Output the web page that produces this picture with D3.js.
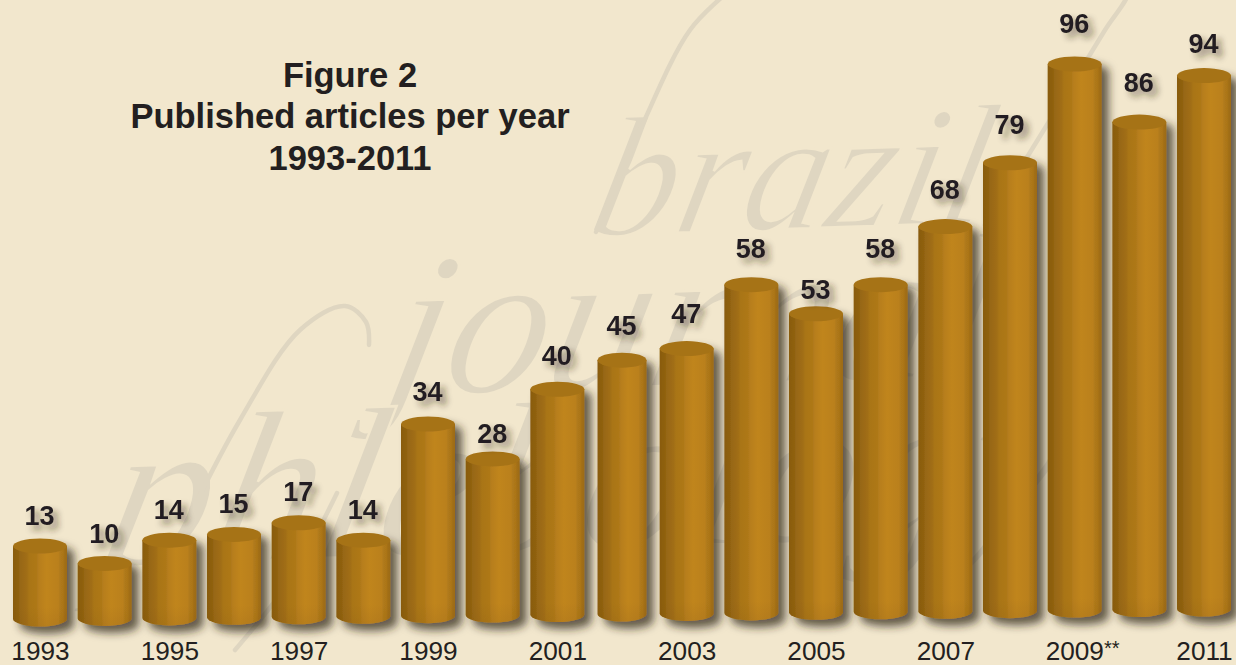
<!DOCTYPE html>
<html><head><meta charset="utf-8">
<script src="https://cdn.jsdelivr.net/npm/d3@7/dist/d3.min.js"></script>
<style>html,body{margin:0;padding:0;background:#f2e7cd;overflow:hidden}svg{display:block}</style>
</head><body><div id="chart"></div>
<script>
const years=[1993,1994,1995,1996,1997,1998,1999,2000,2001,2002,2003,2004,2005,2006,2007,2008,2009,2010,2011];
const articles=[13,10,14,15,17,14,34,28,40,45,47,58,53,58,68,79,96,86,94];
const tickLabels=["1993","1995","1997","1999","2001","2003","2005","2007","2009**","2011"];
const titleLines=["Figure 2","Published articles per year","1993-2011"];
const watermark=[
 {t:"brazil",x:585,y:236,s:170},
 {t:"journal",x:380,y:396,s:205},
 {t:"phlebology",x:95,y:566,s:215}
];
const flourishes=[
 [[596,232],[640,130],[690,30],[728,-8]],
 [[985,225],[1050,120],[1105,30],[1128,-8],[1120,-20]],
 [[180,535],[240,420],[300,330],[345,306],[366,322],[369,345]],
 [[337,493],[290,580],[235,650]]
];

const W=1236,H=665,ry=7.5;
const narrow=new Map([[2002,49]]);
const bw=d=>narrow.get(d.yr)||54;
const svg=d3.select("#chart").append("svg").attr("width",W).attr("height",H);
const defs=svg.append("defs");

const grad=defs.append("linearGradient").attr("id","body");
[[0,"#895b0e"],[.1,"#8f6110"],[.13,"#976713"],[.26,"#a16e15"],[.3,"#a97518"],[.44,"#ae7819"],[.48,"#b77e1d"],[.62,"#c0851f"],[.84,"#ba801e"],[.87,"#b07a1a"],[.93,"#ab7519"],[.95,"#a36f16"],[1,"#9c6b15"]]
 .forEach(([o,c])=>grad.append("stop").attr("offset",o).attr("stop-color",c));
const shade=defs.append("linearGradient").attr("id","foot").attr("x1",0).attr("x2",0).attr("y1",0).attr("y2",1);
shade.append("stop").attr("offset",0).attr("stop-color","#7a4f08").attr("stop-opacity",0);
shade.append("stop").attr("offset",1).attr("stop-color","#7a4f08").attr("stop-opacity",.12);
const blur=(id,sd,dx,dy,op)=>{
 const f=defs.append("filter").attr("id",id).attr("x","-40%").attr("y","-40%").attr("width","200%").attr("height","200%");
 f.append("feGaussianBlur").attr("in","SourceAlpha").attr("stdDeviation",sd).attr("result","b");
 f.append("feOffset").attr("in","b").attr("dx",dx).attr("dy",dy).attr("result","o");
 f.append("feFlood").attr("flood-color","#2e2618").attr("flood-opacity",op);
 f.append("feComposite").attr("in2","o").attr("operator","in").attr("result","s");
 const m=f.append("feMerge");m.append("feMergeNode").attr("in","s");m.append("feMergeNode").attr("in","SourceGraphic");
};
blur("barShadow",4.5,7,7,.72);blur("textShadow",3,5,5,.5);

svg.append("rect").attr("width",W).attr("height",H).attr("fill","#f2e7cd");
const wm=svg.append("g");
wm.selectAll("text").data(watermark).join("text")
 .attr("transform",d=>`translate(${d.x},${d.y}) rotate(-2) skewX(-14)`)
 .attr("font-family","'Liberation Serif',serif").attr("font-style","italic")
 .attr("font-size",d=>d.s).attr("fill","#dfd6c1")
 .attr("stroke","#f2e7cd").attr("stroke-width",2.5).attr("paint-order","fill stroke").text(d=>d.t);
wm.selectAll("path").data(flourishes).join("path")
 .attr("d",d3.line().curve(d3.curveCatmullRom))
 .attr("fill","none").attr("stroke","#dfd6c1").attr("stroke-width",4.5).attr("stroke-linecap","round");

const x=d3.scalePoint().domain(years).range([40,1204]);
const y=d3.scaleLinear().domain([13,96]).range([546,64]);
// the drawing's floor tilts upward to the right
const floor=d3.scaleLinear().domain([1993,2011]).range([619,609]);
const labelY=d3.scaleLinear().domain([13,96]).range([525,33]);
const labelNudge=new Map([[2000,7],[2005,11],[2011,8]]);
const rows=years.map((yr,i)=>({yr,v:articles[i]}));

const bars=svg.append("g").selectAll("g").data(rows).join("g").attr("filter","url(#barShadow)");
const side=(d,t,b)=>{const w=bw(d),l=x(d.yr)-w/2,r=l+w;
 return `M${l},${t}L${l},${b}A${w/2},${ry} 0 0 0 ${r},${b}L${r},${t}Z`;};
bars.append("path").attr("d",d=>side(d,y(d.v),floor(d.yr))).attr("fill","url(#body)");
bars.append("path").attr("d",d=>side(d,floor(d.yr)-12,floor(d.yr))).attr("fill","url(#foot)");
bars.append("ellipse").attr("cx",d=>x(d.yr)).attr("cy",d=>y(d.v)).attr("rx",d=>bw(d)/2).attr("ry",ry).attr("fill","#a67318");

svg.append("g").attr("filter","url(#textShadow)").selectAll("text").data(rows).join("text")
 .attr("x",d=>x(d.yr)-0.5).attr("y",d=>labelY(d.v)+(labelNudge.get(d.yr)||0))
 .attr("text-anchor","middle").attr("font-family","'Liberation Sans',Arial,sans-serif")
 .attr("font-weight",700).attr("font-size",27).attr("fill","#231f20").text(d=>d.v);

const ticks=svg.append("g").selectAll("text").data(tickLabels).join("text")
 .attr("x",d=>x(+d.slice(0,4))+(d.length>4?-29:0.5)).attr("y",660)
 .attr("text-anchor",d=>d.length>4?"start":"middle").attr("font-family","'Liberation Sans',Arial,sans-serif")
 .attr("font-size",26.2).attr("fill","#231f20");
ticks.each(function(d){const s=d3.select(this),b=d.replace(/\*/g,""),a=d.slice(b.length);
   s.append("tspan").text(b);
   if(a)s.append("tspan").attr("font-size",20).attr("dy",-5).text(a);});

svg.append("g").selectAll("text").data(titleLines).join("text")
 .attr("x",350).attr("y",(d,i)=>86.5+i*41.5).attr("text-anchor","middle")
 .attr("font-family","'Liberation Sans',Arial,sans-serif").attr("font-weight",700)
 .attr("font-size",34.5).attr("fill","#231f20").text(d=>d);
</script></body></html>
